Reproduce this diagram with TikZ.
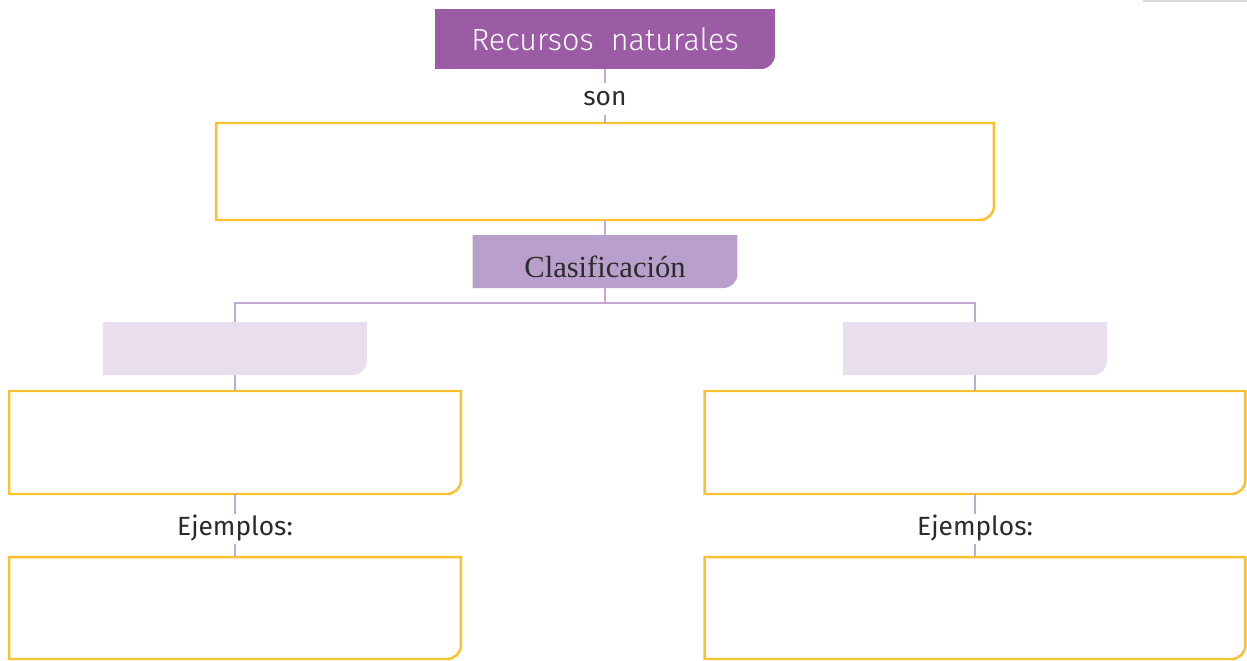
\documentclass[tikz,border=0pt]{standalone}
\usepackage{fontspec}
\usepackage{tikz}
\usetikzlibrary{backgrounds}
\newfontfamily\firafont{Fira Sans}
\newfontfamily\firalight{Fira Sans Light}
\newfontfamily\timesfont{Liberation Serif}
\definecolor{topviolet}{HTML}{9B5BA5}
\definecolor{midviolet}{HTML}{B99FCB}
\definecolor{paleviolet}{HTML}{E8DEEE}
\definecolor{linkviolet}{HTML}{C6A6D4}
\definecolor{boxyellow}{HTML}{FBC12D}
\definecolor{inkgray}{HTML}{2B2B2B}
\tikzset{
    frame/.style={shape=rectangle, inner sep=0pt, outer sep=0pt},
    title/.style={frame, text=white, font=\firalight\fontsize{17.4}{20}\selectfont},
    group/.style={frame, text=inkgray, text height=18.5pt, text depth=0pt, font=\timesfont\fontsize{17.4}{20}\selectfont},
    word/.style={frame, text=inkgray, minimum height=0.6cm, font=\firafont\fontsize{15}{18}\selectfont},
    link/.style={draw=linkviolet, line width=1.1pt},
}
% only the lower right corner is rounded
\newcommand{\cornerbox}[2]{%
    \path[#2] (#1.south west) -- (#1.north west) -- (#1.north east)
        -- ([yshift=8pt]#1.south east) arc[start angle=0, end angle=-90, radius=8pt] -- cycle;}

\begin{document}
\begin{tikzpicture}[x=0.02cm, y=-0.02cm]
    \useasboundingbox (0,0) rectangle (1247,660);
    \fill[black!14] (1143,0) rectangle (1247,2);

    \node[title, minimum width=6.8cm, minimum height=1.2cm] (rec) at (605,39) {Recursos\ \ naturales};
    \node[word, minimum height=0.64cm] (son) at (605,99) {son};
    \node[frame, minimum width=15.56cm, minimum height=1.94cm] (def) at (605,171.5) {};
    \node[group, minimum width=5.3cm, minimum height=1.06cm] (clas) at (605,261.5) {Clasificación};

    \node[frame, minimum width=5.28cm, minimum height=1.06cm] (kindA) at (235,348.5) {};
    \node[frame, minimum width=5.28cm, minimum height=1.06cm] (kindB) at (975,348.5) {};
    \node[frame, minimum width=9.04cm, minimum height=2.06cm] (descA) at (235,442.5) {};
    \node[frame, minimum width=10.82cm, minimum height=2.06cm] (descB) at (975,442.5) {};
    \node[word] (ejA) at (235,528.5) {Ejemplos:};
    \node[word] (ejB) at (975,528.5) {Ejemplos:};
    \node[frame, minimum width=9.04cm, minimum height=2.04cm] (listA) at (235,608) {};
    \node[frame, minimum width=10.82cm, minimum height=2.04cm] (listB) at (975,608) {};

    \draw[link] (rec) -- (son);
    \draw[link] (son) -- (def);
    \draw[link] (def) -- (clas);
    \draw[link] (clas.south) -- ++(0,15) coordinate (fork);
    \draw[link] (kindA.north) |- (fork) -| (kindB.north);
    \foreach \s in {A,B}
        \draw[link] (kind\s) -- (desc\s) (desc\s) -- (ej\s) (ej\s) -- (list\s);

    \begin{pgfonlayer}{background}
        \cornerbox{rec}{fill=topviolet}
        \cornerbox{clas}{fill=midviolet}
        \foreach \n in {kindA,kindB}
            {\cornerbox{\n}{fill=paleviolet}}
        \foreach \n in {def,descA,descB,listA,listB}
            {\cornerbox{\n}{draw=boxyellow, line width=1.4pt}}
    \end{pgfonlayer}
\end{tikzpicture}
\end{document}
